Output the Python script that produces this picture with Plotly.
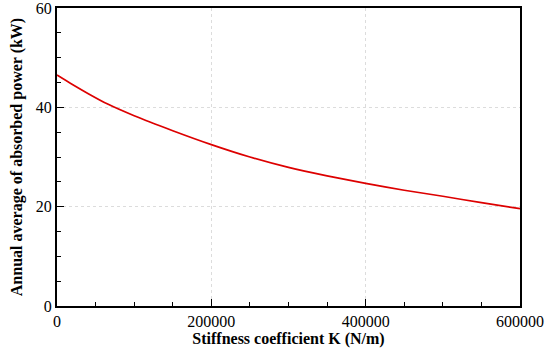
import plotly.graph_objects as go

stiffness = [0, 20000, 40000, 65000, 100000, 150000, 200000, 250000, 300000,
             350000, 400000, 450000, 500000, 550000, 600000]
power = [46.5, 44.6, 42.8, 40.7, 38.3, 35.3, 32.5, 30.0, 27.9,
         26.2, 24.7, 23.3, 22.1, 20.8, 19.6]

x_title = "Stiffness coefficient K (N/m)"
y_title = "Annual average of absorbed power (kW)"

fig = go.Figure()
fig.add_trace(go.Scatter(x=stiffness, y=power, mode="lines",
                         line=dict(color="#dd0000", width=1.7,
                                   shape="spline", smoothing=0.6),
                         showlegend=False))

font_family = "Liberation Serif"
axis_common = dict(
    showline=True, linecolor="black", linewidth=2, mirror=True,
    ticks="inside", ticklen=7, tickwidth=1, tickcolor="black",
    showgrid=True, gridcolor="#dcdcdc", griddash="dot", gridwidth=1,
    zeroline=False, automargin=False, ticklabeloverflow="allow",
    tickfont=dict(family=font_family, size=16, color="black"),
)

fig.update_layout(
    width=545, height=348,
    margin=dict(l=57, r=25, t=8, b=42),
    paper_bgcolor="white", plot_bgcolor="white",
    font=dict(family=font_family, color="black"),
    xaxis=dict(range=[0, 600000], tickvals=[0, 200000, 400000, 600000],
               ticktext=["0", "200000", "400000", "600000"],
               minor=dict(dtick=50000, tick0=0, ticks="inside", ticklen=4,
                          tickcolor="black", showgrid=False),
               title=dict(text="<b>" + x_title + "</b>",
                          font=dict(family=font_family, size=16), standoff=0),
               **axis_common),
    yaxis=dict(range=[0, 60], tickvals=[0, 20, 40, 60],
               minor=dict(dtick=5, tick0=0, ticks="inside", ticklen=4,
                          tickcolor="black", showgrid=False),
               title=dict(text="<b>" + y_title + "</b>",
                          font=dict(family=font_family, size=16), standoff=9),
               **axis_common),
)

fig.write_html("out.html", config={"displayModeBar": False},
               post_script="document.body.style.margin='0';")
